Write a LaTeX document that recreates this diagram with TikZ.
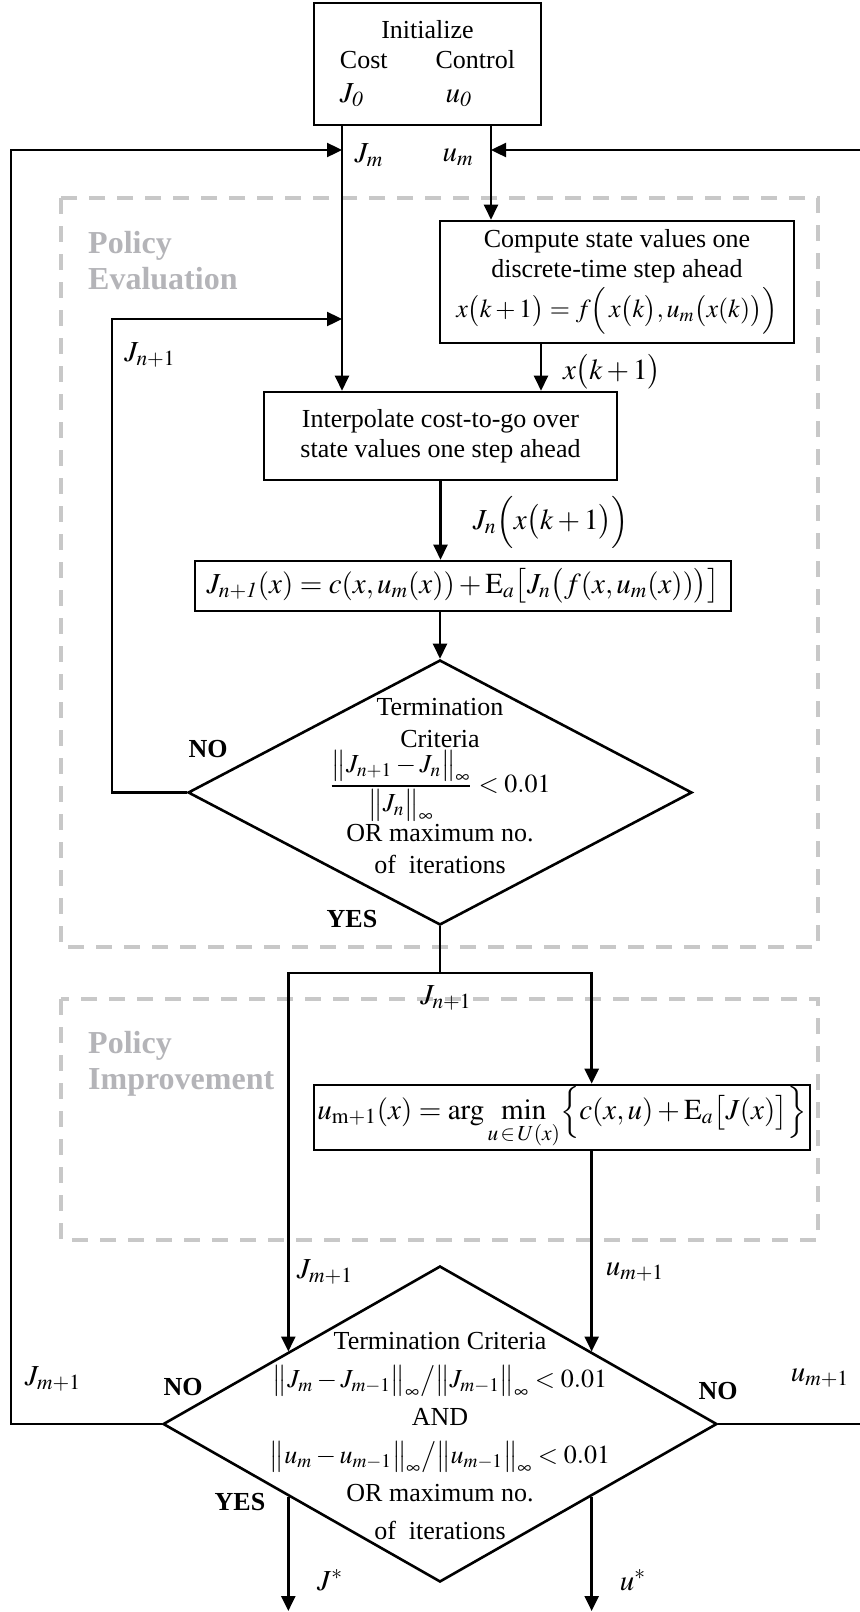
\documentclass[tikz,border=0pt]{standalone}
\usepackage{amsmath}
\usepackage{mathptmx}
\usepackage{fontspec}
\setmainfont{Liberation Serif}
\usepackage{tikz}
\usetikzlibrary{arrows.meta, shapes.geometric, calc}

\definecolor{regiongray}{RGB}{200,200,200}
\definecolor{titlegray}{RGB}{180,180,184}

\begin{document}
\begin{tikzpicture}[x=0.5pt, y=-0.5pt, >={Triangle[length=7.5pt,width=7pt]}, line width=1.2pt,
	font=\fontsize{13}{15}\selectfont,
	block/.style={rectangle, draw, line width=1.3pt, align=center, inner sep=0pt},
	decision/.style={diamond, draw, line width=1.3pt, inner sep=0pt},
	region/.style={draw=regiongray, dash pattern=on 8pt off 6pt, line width=1.7pt},
	title/.style={anchor=north west, align=left, inner sep=0pt, text=titlegray, font=\fontsize{16}{18}\selectfont\bfseries},
	answer/.style={inner sep=0pt, font=\fontsize{13}{15}\selectfont\bfseries},
	lbl/.style={inner sep=0pt, font=\fontsize{14.5}{16}\selectfont}]
		\useasboundingbox (0,0) rectangle (860,1612);

		\draw[region] (61,198) rectangle (818,947);
		\draw[region] (61,999) rectangle (818,1240);
		\node[title] (evaltitle) at (87,230) {Policy\\Evaluation};
		\node[title] (improvetitle) at (87,1030) {Policy\\Improvement};

		\node[block, minimum width=113.5pt, minimum height=61pt] (init) at (427.5,64)
			{\begin{tabular}{@{}l@{\hspace{24pt}}l@{}}
				\multicolumn{2}{c}{Initialize}\\
				Cost & Control\\[2pt]
				\fontsize{14.5}{16}\selectfont$J_{\mathit{0}}$ & \hspace{5pt}\fontsize{14.5}{16}\selectfont$u_{\mathit{0}}$
			\end{tabular}};

		\node[block, minimum width=177pt, minimum height=61pt] (comp) at (617,282)
			{Compute state values one\\ discrete-time step ahead\\[1pt]
			$x\bigl(k+1\bigr)= f\Bigl(\,x\bigl(k\bigr),u_m\bigl(x(k)\bigr)\Bigr)$};

		\node[block, minimum width=176.5pt, minimum height=44pt] (interp) at (440.5,436)
			{Interpolate cost-to-go over\\ state values one step ahead};

		\node[block, minimum width=268pt, minimum height=25pt, font=\fontsize{14.5}{17}\selectfont] (bellman) at (463,586)
			{$J_{\mathit{n+1}}(x) = c(x,u_m(x)) + \mathrm{E}_a\bigl[J_n\bigl(f(x,u_m(x))\bigr)\bigr]$};

		\node[decision, minimum width=252pt, minimum height=132.5pt] (test1) at (440,792.5) {};
		\node[lbl, align=center, font=\fontsize{13}{16}\selectfont] (test1txt) at (440,786)
			{Termination\\ Criteria\\
			$\dfrac{\bigl\|J_{n+1}-J_n\bigr\|_\infty}{\bigl\|J_n\bigr\|_\infty}<0.01$\\
			OR maximum no.\\ of~ iterations};

		\node[block, minimum width=248pt, minimum height=32.5pt, font=\fontsize{14.5}{17}\selectfont] (improve) at (562,1117.5)
			{$u_{\mathrm{m+1}}(x) = \arg\min\limits_{u\,\in\,U(x)}\Bigl\{c(x,u) + \mathrm{E}_a\bigl[J(x)\bigr]\Bigr\}$};

		\node[decision, minimum width=277pt, minimum height=158pt] (test2) at (440,1424) {};
		\node[lbl, align=center, font=\fontsize{13}{19}\selectfont] (test2txt) at (440,1436)
			{Termination Criteria\\
			$\bigl\|J_m-J_{m-1}\bigr\|_\infty\big/\bigl\|J_{m-1}\bigr\|_\infty<0.01$\\
			AND\\
			$\bigl\|u_m-u_{m-1}\bigr\|_\infty\big/\bigl\|u_{m-1}\bigr\|_\infty<0.01$\\
			OR maximum no.\\ of~ iterations};

		\coordinate (loopL) at (11,150);
		\coordinate (loopR) at (862,150);
		\coordinate (jm) at (342,150);
		\coordinate (um) at (491,150);
		\coordinate (xk) at (541,360);
		\coordinate (jn) at (112,319);
		\coordinate (split) at (440,973);
		\coordinate (bottom) at (0,1611);
		\coordinate (jin) at ($(test2.west)!0.455!(test2.north)$);
		\coordinate (jout) at ($(test2.west)!0.455!(test2.south)$);
		\coordinate (uin) at ($(test2.east)!0.455!(test2.north)$);
		\coordinate (uout) at ($(test2.east)!0.455!(test2.south)$);

		\draw[->] (init.south -| jm) -- (interp.north -| jm);
		\draw[->] (init.south -| um) -- (comp.north -| um);
		\draw[->] (comp.south -| xk) -- (interp.north -| xk);
		\draw[->] (interp.south) -- (interp.south |- bellman.north);
		\draw[->] (bellman.south -| test1.north) -- (test1.north);
		\draw[->] (test1.west) -| (jn) -- (jn -| jm);
		\draw (test1.south) -- (split);
		\draw[->] (split) -| (jin);
		\draw[->] (split) -| (uin |- improve.north);
		\draw[->] (uin |- improve.south) -- (uin);
		\draw[->] (test2.west) -| (loopL) -- (jm);
		\draw[->] (test2.east) -| (loopR) -- (um);
		\draw[->] (jout) -- (jout |- bottom);
		\draw[->] (uout) -- (uout |- bottom);

		\node[lbl] (jmlbl) at (369,155) {$J_m$};
		\node[lbl] (umlbl) at (458,157) {$u_m$};
		\node[lbl] (jnlbl) at (150,355) {$J_{n+1}$};
		\node[lbl] (xklbl) at (612,372) {$x\bigl(k+1\bigr)$};
		\node[lbl] (jnxlbl) at (551,522) {$J_n\Bigl(x\bigl(k+1\bigr)\Bigr)$};
		\node[answer] (no1) at (208,749) {NO};
		\node[answer] (yes1) at (352,919) {YES};
		\node[lbl] (jnsplit) at (446,998) {$J_{n+1}$};
		\node[lbl] (jm1in) at (325,1272) {$J_{m+1}$};
		\node[lbl] (um1in) at (635,1272) {$u_{m+1}$};
		\node[lbl] (jm1back) at (53,1379) {$J_{m+1}$};
		\node[lbl] (um1back) at (820,1378) {$u_{m+1}$};
		\node[answer] (no2l) at (183,1387) {NO};
		\node[answer] (no2r) at (718,1391) {NO};
		\node[answer] (yes2) at (240,1502) {YES};
		\node[lbl] (jstar) at (330,1580) {$J^*$};
		\node[lbl] (ustar) at (633,1580) {$u^*$};
\end{tikzpicture}
\end{document}
